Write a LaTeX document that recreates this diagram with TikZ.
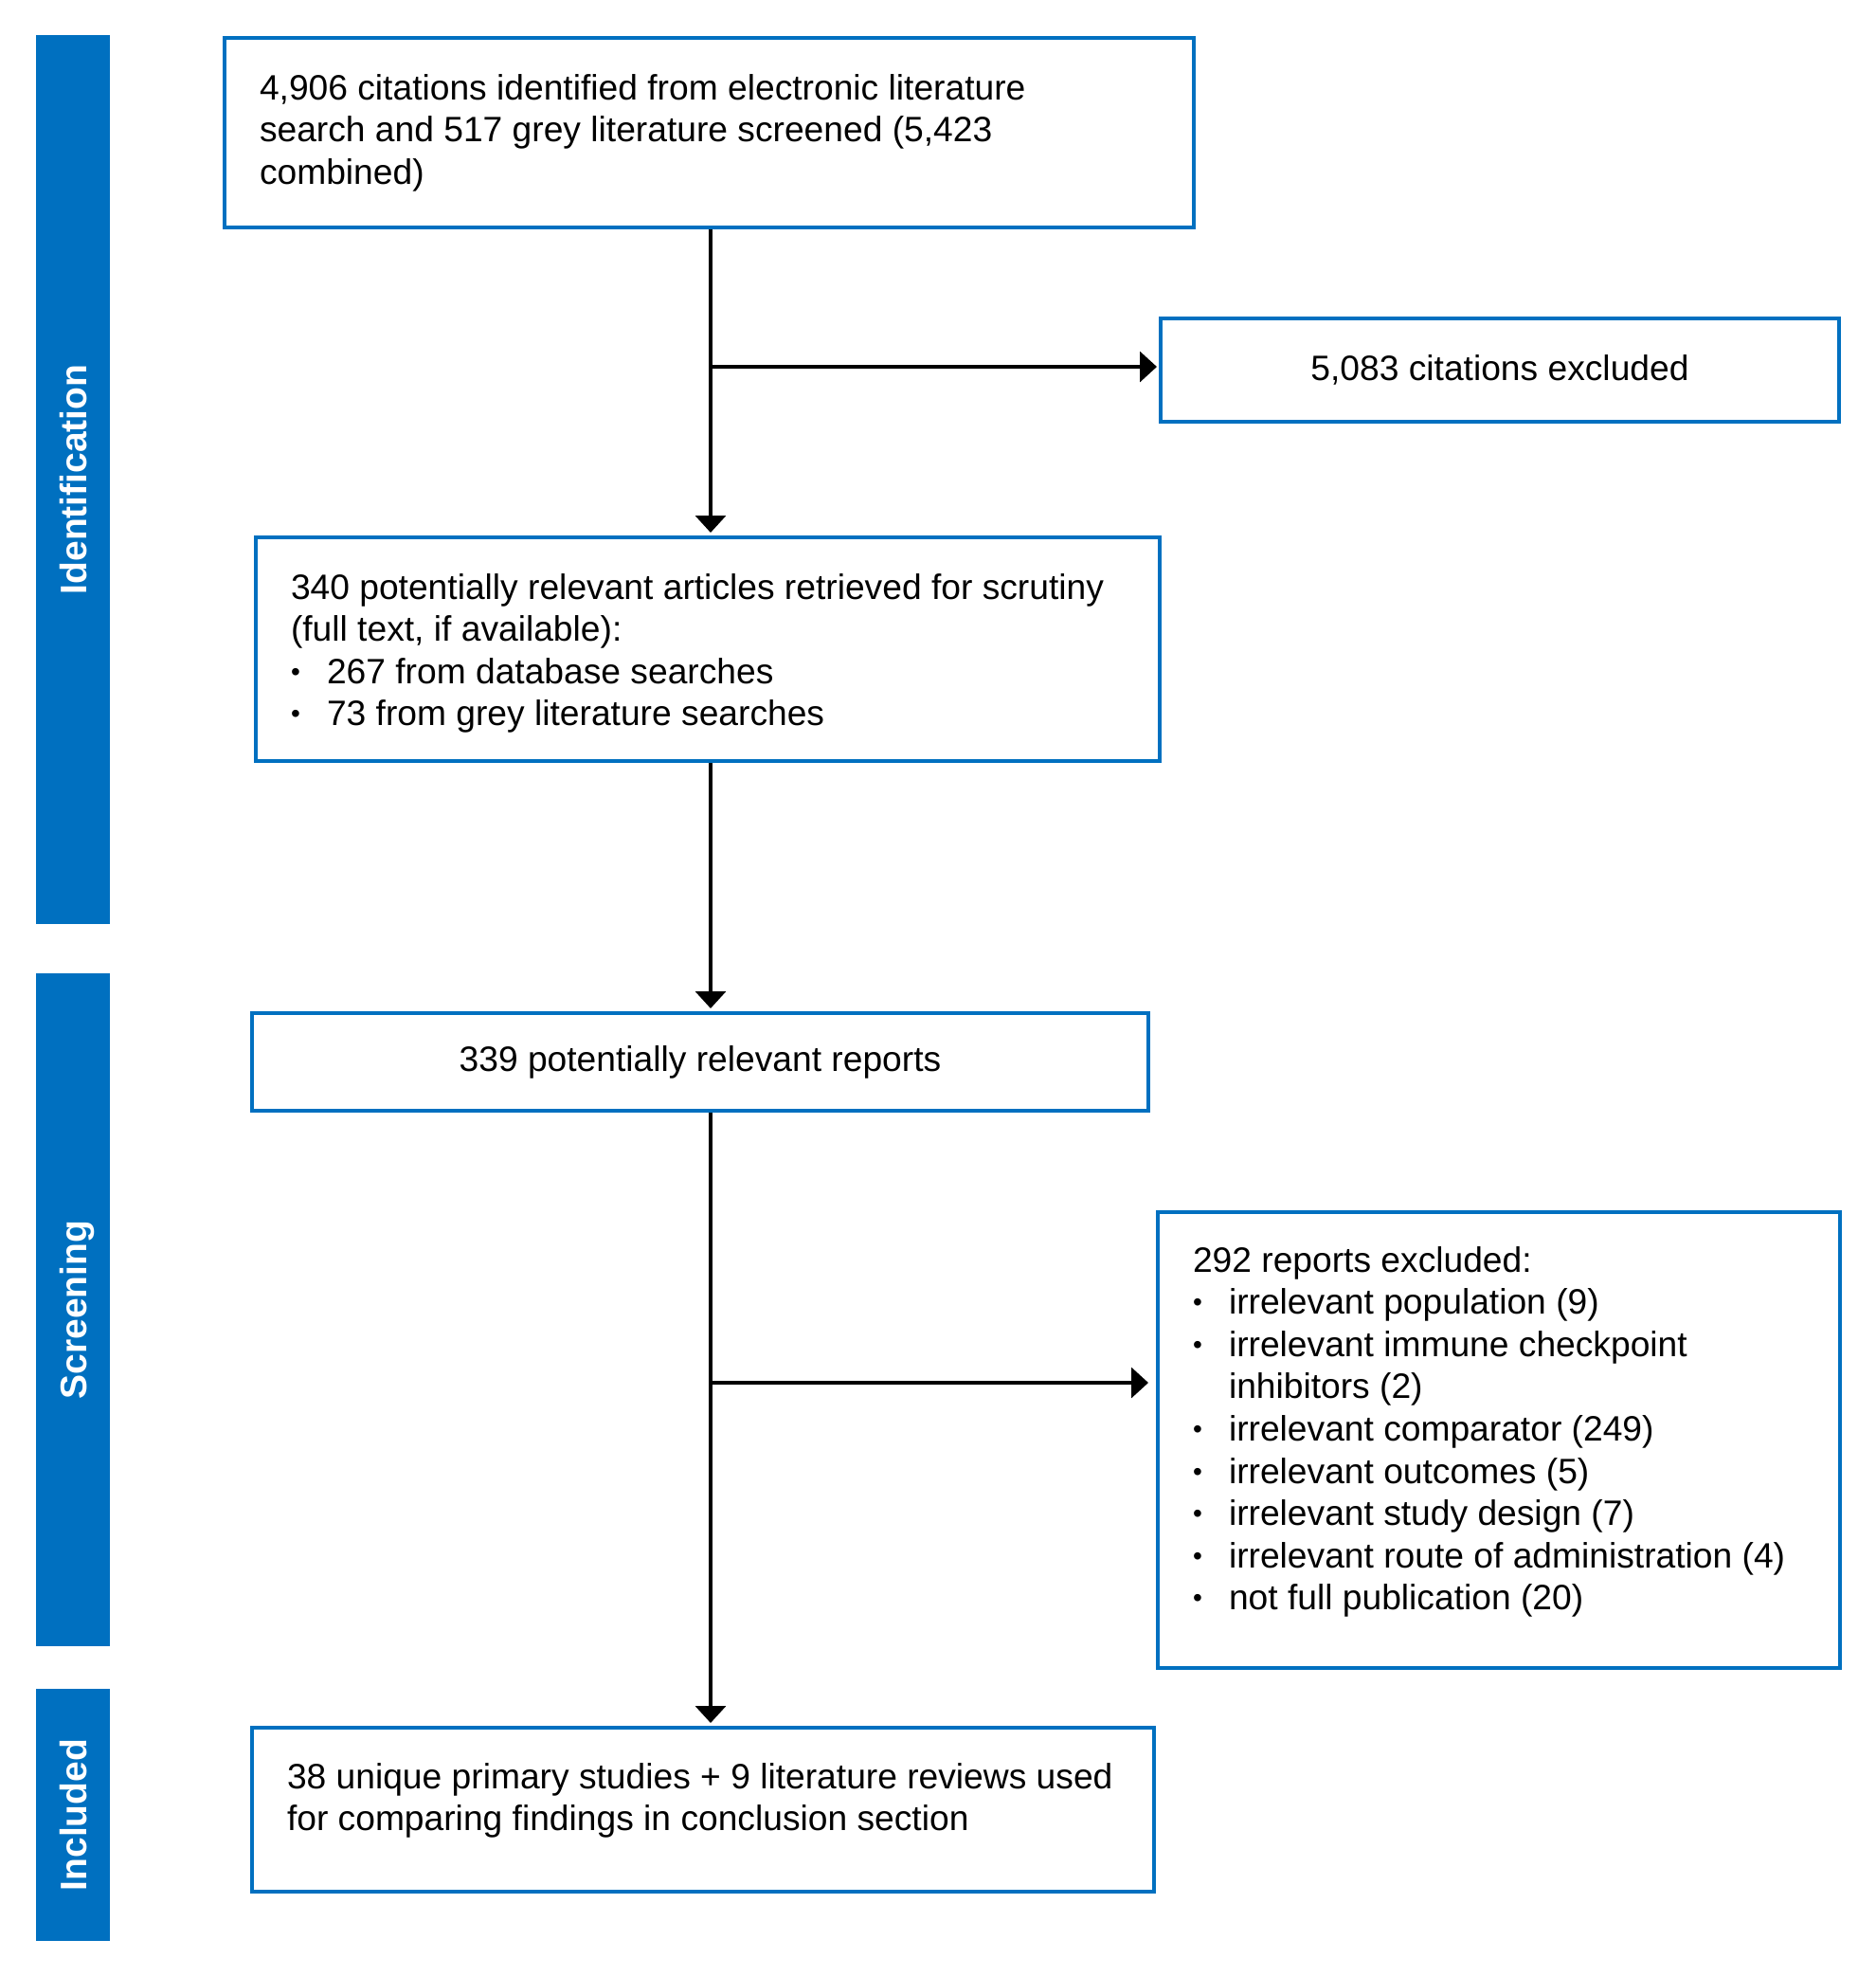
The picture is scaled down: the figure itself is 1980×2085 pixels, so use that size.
\documentclass[tikz,border=0pt]{standalone}
\usepackage{fontspec}
\setmainfont{Liberation Sans}
\usetikzlibrary{arrows.meta}
\definecolor{cblue}{HTML}{0070C0}
\newcommand\bitem[1]{\par\hangindent=19pt\hangafter=1\noindent\makebox[19pt][l]{\raisebox{1.5pt}{\fontsize{14pt}{14pt}\selectfont\textbullet}}#1}
\newcommand\boxfont{\fontsize{18.6pt}{22.3pt}\selectfont}
\tikzset{
  box/.style={draw=cblue, line width=2pt, inner ysep=0pt, inner xsep=18.5pt, align=left, font=\boxfont},
  cbox/.style={draw=cblue, line width=2pt, inner sep=0pt, font=\boxfont},
  bar/.style={fill=cblue, draw=none, inner sep=0pt, minimum width=39pt},
  barlabel/.style={text=white, font=\fontsize{19.5pt}{22pt}\selectfont\bfseries, rotate=90, anchor=base, inner sep=0pt},
  arr/.style={line width=1.75pt, -{Triangle[length=9pt,width=16pt]}}
}
\begin{document}
\begin{tikzpicture}[x=0.5pt,y=-0.5pt]
\useasboundingbox (0,0) rectangle (1980,2085);
% side bars
\node[bar, minimum height=469pt] (sid) at (77,506) {};
\node[barlabel] (lid) at (91,506) {Identification};
\node[bar, minimum height=355pt] (sscr) at (77,1382) {};
\node[barlabel] (lscr) at (91,1382) {Screening};
\node[bar, minimum height=133pt] (sinc) at (77,1915) {};
\node[barlabel] (linc) at (91,1915) {Included};
% boxes
\node[box, anchor=north west] (b1) at (235,38) {\parbox[c][100pt][t]{474.5pt}{\raggedright\boxfont\rule{0pt}{32.5pt}4,906 citations identified from electronic literature\\search and 517 grey literature screened (5,423\\combined)}};
\node[cbox, minimum width=358pt, minimum height=54.5pt] (x1) at (1583,390.5) {5,083 citations excluded};
\node[box, anchor=north west] (b2) at (268,565) {\parbox[c][118pt][t]{440pt}{\raggedright\boxfont\rule{0pt}{32.5pt}340 potentially relevant articles retrieved for scrutiny\\(full text, if available):\bitem{267 from database searches}\bitem{73 from grey literature searches}}};
\node[cbox, minimum width=473pt, minimum height=51.5pt] (b3) at (739,1120.5) {339 potentially relevant reports};
\node[box, anchor=north west] (x2) at (1220,1277) {\parbox[c][240.5pt][t]{323pt}{\raggedright\boxfont\rule{0pt}{31.5pt}292 reports excluded:\bitem{irrelevant population (9)}\bitem{irrelevant immune checkpoint\newline inhibitors (2)}\bitem{irrelevant comparator (249)}\bitem{irrelevant outcomes (5)}\bitem{irrelevant study design (7)}\bitem{irrelevant route of administration (4)}\bitem{not full publication (20)}}};
\node[box, anchor=north west] (b5) at (264,1821) {\parbox[c][86.5pt][t]{439pt}{\raggedright\boxfont\rule{0pt}{32pt}38 unique primary studies + 9 literature reviews used\\for comparing findings in conclusion section}};
% connectors
\coordinate (sp) at (750,0);
\coordinate (j1) at (750,387);
\coordinate (j2) at (750,1459);
\draw[arr, shorten >=1.5pt] (b1.south -| sp) -- (b2.north -| sp);
\draw[arr, shorten >=1pt] (j1) -- (j1 -| x1.west);
\draw[arr, shorten >=1.5pt] (b2.south -| sp) -- (b3.north -| sp);
\draw[arr, shorten >=1.5pt] (b3.south -| sp) -- (b5.north -| sp);
\draw[arr, shorten >=4pt] (j2) -- (j2 -| x2.west);
\end{tikzpicture}
\end{document}
